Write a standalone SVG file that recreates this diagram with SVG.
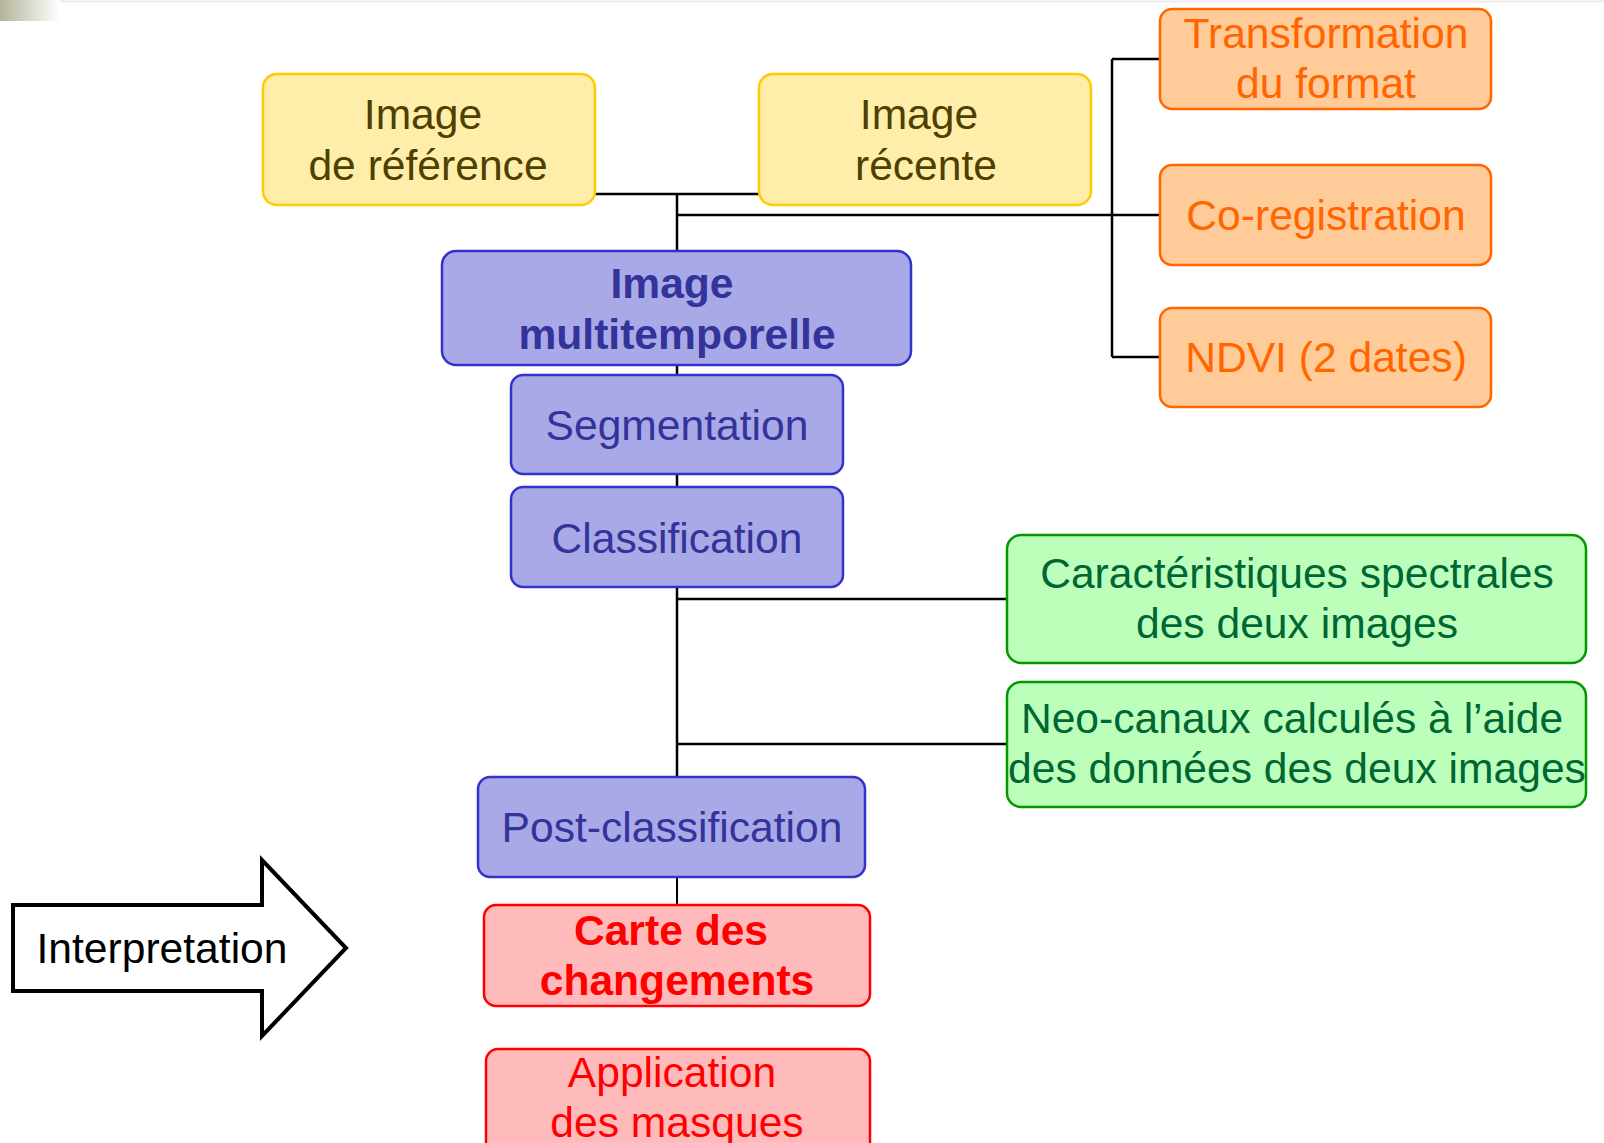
<svg xmlns="http://www.w3.org/2000/svg" width="1604" height="1143" viewBox="0 0 1604 1143">
<defs>
<linearGradient id="corner" x1="0" y1="0" x2="1" y2="0">
<stop offset="0" stop-color="#b4b49c"/>
<stop offset="1" stop-color="#ffffff"/>
</linearGradient>
</defs>
<style>
text{font-family:"Liberation Sans",Arial,sans-serif;font-size:42.6px;text-anchor:middle}
.box{stroke-width:2.5}
.y rect{fill:#FFEEAA;stroke:#FFCC00}
.y text{fill:#4D4000}
.o rect{fill:#FFCC99;stroke:#FF6600}
.o text{fill:#FF6600}
.b rect{fill:#A9A9E8;stroke:#3333CC}
.b text{fill:#333399}
.g rect{fill:#BBFFBB;stroke:#009900}
.g text{fill:#006633}
.r rect{fill:#FFBBBB;stroke:#FF0000}
.r text{fill:#FF0000}
.bold{font-weight:bold}
#connectors line{stroke:#000;stroke-width:2.5}
</style>
<rect width="1604" height="1143" fill="#fff"/>
<rect x="0" y="0" width="60" height="21" fill="url(#corner)"/>
<line x1="60" y1="1.5" x2="1604" y2="1.5" stroke="#ececec" stroke-width="2"/>

<g id="connectors">
<line x1="595" y1="194" x2="759" y2="194"/>
<line x1="677" y1="194" x2="677" y2="777"/>
<line x1="677" y1="215" x2="1160" y2="215"/>
<line x1="1112" y1="59" x2="1112" y2="357"/>
<line x1="1112" y1="59" x2="1160" y2="59"/>
<line x1="1112" y1="357" x2="1160" y2="357"/>
<line x1="677" y1="599" x2="1007" y2="599"/>
<line x1="677" y1="744" x2="1007" y2="744"/>
<line x1="677" y1="877" x2="677" y2="905" style="stroke-width:2"/>
</g>

<g id="ref" class="y">
<rect class="box" x="263" y="74" width="332" height="131" rx="14"/>
<text x="423" y="129">Image</text>
<text x="428" y="180">de référence</text>
</g>
<g id="recente" class="y">
<rect class="box" x="759" y="74" width="332" height="131" rx="14"/>
<text x="919" y="129">Image</text>
<text x="926" y="180">récente</text>
</g>
<g id="transformation" class="o">
<rect class="box" x="1160" y="9" width="331" height="100" rx="12"/>
<text x="1326" y="48">Transformation</text>
<text x="1326" y="98">du format</text>
</g>
<g id="coreg" class="o">
<rect class="box" x="1160" y="165" width="331" height="100" rx="12"/>
<text x="1326" y="230">Co-registration</text>
</g>
<g id="ndvi" class="o">
<rect class="box" x="1160" y="308" width="331" height="99" rx="12"/>
<text x="1326" y="372">NDVI (2 dates)</text>
</g>
<g id="multi" class="b">
<rect class="box" x="442" y="251" width="469" height="114" rx="14"/>
<text class="bold" x="672" y="298">Image</text>
<text class="bold" x="677" y="349">multitemporelle</text>
</g>
<g id="segmentation" class="b">
<rect class="box" x="511" y="375" width="332" height="99" rx="12"/>
<text x="677" y="440">Segmentation</text>
</g>
<g id="classification" class="b">
<rect class="box" x="511" y="487" width="332" height="100" rx="12"/>
<text x="677" y="553">Classification</text>
</g>
<g id="spectrales" class="g">
<rect class="box" x="1007" y="535" width="579" height="128" rx="14"/>
<text x="1297" y="588">Caractéristiques spectrales</text>
<text x="1297" y="638">des deux images</text>
</g>
<g id="neocanaux" class="g">
<rect class="box" x="1007" y="682" width="579" height="125" rx="14"/>
<text x="1292" y="733">Neo-canaux calculés à l’aide</text>
<text x="1297" y="783">des données des deux images</text>
</g>
<g id="postclass" class="b">
<rect class="box" x="478" y="777" width="387" height="100" rx="12"/>
<text x="672" y="842">Post-classification</text>
</g>
<g id="carte" class="r">
<rect class="box" x="484" y="905" width="386" height="101" rx="12"/>
<text class="bold" x="671" y="945">Carte des</text>
<text class="bold" x="677" y="995">changements</text>
</g>
<g id="application" class="r">
<rect class="box" x="486" y="1049" width="384" height="110" rx="12"/>
<text x="672" y="1087">Application</text>
<text x="677" y="1137">des masques</text>
</g>
<g id="interpretation">
<polygon points="13,905 262,905 262,860 346,948 262,1036 262,991 13,991" fill="#fff" stroke="#000" stroke-width="4"/>
<text x="162" y="963" style="fill:#000">Interpretation</text>
</g>
</svg>
